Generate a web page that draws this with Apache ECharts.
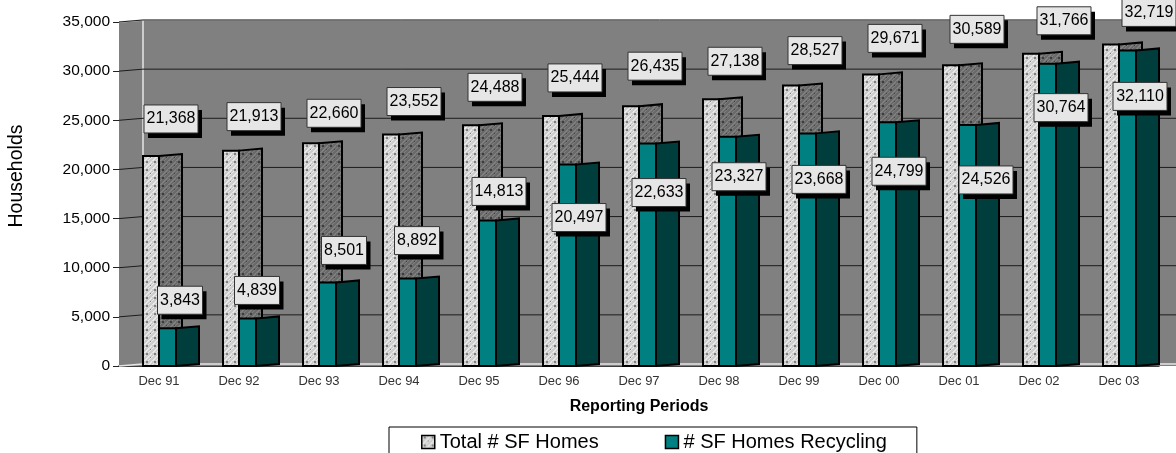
<!DOCTYPE html>
<html>
<head>
<meta charset="utf-8">
<style>html,body{margin:0;background:#fff}#chart{width:1176px;height:453px}</style>
<script src="https://cdn.jsdelivr.net/npm/echarts@6/dist/echarts.min.js"></script>
</head>
<body>
<div id="chart"></div>
<script>
const categories = ["Dec 91","Dec 92","Dec 93","Dec 94","Dec 95","Dec 96","Dec 97","Dec 98","Dec 99","Dec 00","Dec 01","Dec 02","Dec 03"];
const totalHomes = [21368,21913,22660,23552,24488,25444,26435,27138,28527,29671,30589,31766,32719];
const recyclingHomes = [3843,4839,8501,8892,14813,20497,22633,23327,23668,24799,24526,30764,32110];
const yTicks = [5000,10000,15000,20000,25000,30000,35000];

//hand placed label nudges in px, measured from the center of the category and the top of the bar
const totalLabelDx = [12,15,15,15,16,16,16,16,16,16,18,25,30];
const totalLabelDy = [-37,-34,-30,-33,-38,-38,-40,-38,-35,-36,-36,-33,-32];
const recyclingLabelDx = [21,18,25,18,20,20,20,20,20,20,27,22,21];
const recyclingLabelDy = [-28,-28,-32,-38,-29,53,49,40,46,49,55,44,46];

const DEPTH_X = 24;
const DEPTH_Y = 2;
const FONT = '"Liberation Sans", Arial, sans-serif';

//tile used for the hatched bars
function hatch(base, light, dark) {
    const c = document.createElement("canvas");
    c.width = c.height = 8;
    const g = c.getContext("2d");
    g.fillStyle = base;
    g.fillRect(0, 0, 8, 8);
    g.fillStyle = light;
    for (let i = 0; i < 8; i++) {
        g.fillRect(i, (8 - i) % 8, 2, 1);
        g.fillRect(i, (12 - i) % 8, 1, 1);
    }
    g.fillStyle = dark;
    g.fillRect(2, 1, 2, 2);
    g.fillRect(6, 5, 1, 1);
    return { image: c, repeat: "repeat" };
}

const totalFront = hatch("#cdcdcd", "#e9e9e9", "#808080");
const totalSide = hatch("#696969", "#808080", "#3c3c3c");

//one bar with its front and side faces, offset is px from the category center
function barItem(params, api, offset, frontWidth, frontFill, sideFill) {
    const top = api.coord([api.value(0), api.value(1)]);
    const base = api.coord([api.value(0), 0]);
    const x0 = top[0] + offset;
    const x1 = x0 + frontWidth;
    const x2 = x1 + DEPTH_X - 1;
    const line = { stroke: "#000", lineWidth: 2, lineJoin: "miter" };
    return {
        type: "group",
        children: [
            { type: "polygon", shape: { points: [[x1, top[1]], [x2, top[1] - DEPTH_Y], [x2, base[1] - DEPTH_Y], [x1, base[1]]] }, style: { fill: sideFill, ...line } },
            { type: "rect", shape: { x: x0, y: top[1], width: frontWidth, height: base[1] - top[1] }, style: { fill: frontFill, ...line } }
        ]
    };
}

function labelItem(api, text, dx, dy) {
    const top = api.coord([api.value(0), api.value(1)]);
    const cx = top[0] + dx;
    const cy = top[1] + dy;
    const w = text.length > 5 ? 54 : 45;
    const h = 28;
    return {
        type: "group",
        children: [
            { type: "rect", shape: { x: cx - w / 2 + 4, y: cy - h / 2 + 5, width: w, height: h }, style: { fill: "#000" } },
            { type: "rect", shape: { x: cx - w / 2, y: cy - h / 2, width: w, height: h }, style: { fill: "#e6e6e6", stroke: "#333", lineWidth: 1 } },
            { type: "text", style: { x: cx, y: cy, text: text, align: "center", verticalAlign: "middle", fill: "#000", font: "16px " + FONT } }
        ]
    };
}

const toPairs = (values) => values.map((v, i) => [i, v]);
const fmt = (v) => v.toLocaleString("en-US");

const chart = echarts.init(document.getElementById("chart"), null, { renderer: "canvas" });

chart.setOption({
    animation: false,
    backgroundColor: "#fff",
    grid: { left: 119, right: 17, top: 22, bottom: 87 },
    xAxis: {
        type: "category",
        data: categories,
        name: "Reporting Periods",
        nameLocation: "middle",
        nameGap: 33,
        nameTextStyle: { color: "#000", fontFamily: FONT, fontSize: 16, fontWeight: "bold" },
        axisLine: { lineStyle: { color: "#000", width: 1.5 } },
        axisTick: { length: 6, lineStyle: { color: "#333" } },
        axisLabel: { color: "#333", fontFamily: FONT, fontSize: 13, margin: 9, interval: 0 },
        splitLine: { show: false }
    },
    yAxis: {
        type: "value",
        min: 0,
        max: 35000,
        interval: 5000,
        axisLine: { show: true, lineStyle: { color: "#222" } },
        axisTick: { show: true, length: 6, lineStyle: { color: "#222" } },
        axisLabel: { color: "#000", fontFamily: FONT, fontSize: 15.5, margin: 9, formatter: (v) => fmt(v) },
        splitLine: { show: false }
    },
    legend: {
        left: 389,
        top: 427,
        padding: [5, 30, 30, 32],
        itemGap: 66,
        itemWidth: 13,
        itemHeight: 13,
        itemStyle: { borderColor: "#000", borderWidth: 1.5 },
        borderColor: "#000",
        borderWidth: 1,
        backgroundColor: "#fff",
        selectedMode: false,
        icon: "rect",
        textStyle: { color: "#000", fontFamily: FONT, fontSize: 20 },
        data: [
            { name: "Total # SF Homes", itemStyle: { color: totalFront } },
            { name: "# SF Homes Recycling", itemStyle: { color: "#008080" } }
        ]
    },
    graphic: [{
        type: "text",
        x: 17,
        y: 176,
        rotation: Math.PI / 2,
        style: { text: "Households", font: "19.5px " + FONT, fill: "#000", align: "center", verticalAlign: "middle" }
    }],
    series: [
        {
            //back wall and floor edge
            type: "custom",
            z: 1,
            silent: true,
            encode: { x: 0, y: 1 },
            data: [[0, 35000]],
            renderItem: (params, api) => {
                const cs = params.coordSys;
                const right = api.getWidth();
                const yTop = cs.y;
                const yBase = cs.y + cs.height;
                const wallX = cs.x + DEPTH_X;
                return {
                    type: "group",
                    children: [
                        { type: "polygon", shape: { points: [[cs.x, yTop], [wallX, yTop - DEPTH_Y], [right, yTop - DEPTH_Y], [right, yBase], [cs.x, yBase]] }, style: { fill: "#808080" } },
                        { type: "polyline", shape: { points: [[cs.x, yTop], [wallX, yTop - DEPTH_Y], [right, yTop - DEPTH_Y]] }, style: { fill: null, stroke: "#d8d8d8", lineWidth: 1.5 } },
                        { type: "line", shape: { x1: wallX, y1: yTop - DEPTH_Y, x2: wallX, y2: yBase - DEPTH_Y }, style: { stroke: "#e6e6e6", lineWidth: 1.5 } },
                        { type: "polyline", shape: { points: [[cs.x, yBase], [wallX, yBase - DEPTH_Y], [right, yBase - DEPTH_Y]] }, style: { fill: null, stroke: "#e6e6e6", lineWidth: 1.5 } }
                    ]
                };
            }
        },
        {
            //gridlines bend from the tick back to the wall
            type: "custom",
            z: 2,
            silent: true,
            encode: { x: 0, y: 1 },
            data: yTicks.map((v) => [0, v]),
            renderItem: (params, api) => {
                const cs = params.coordSys;
                const y = api.coord([0, api.value(1)])[1];
                return {
                    type: "polyline",
                    shape: { points: [[cs.x, y], [cs.x + DEPTH_X, y - DEPTH_Y], [api.getWidth(), y - DEPTH_Y]] },
                    style: { fill: null, stroke: "#1c1c1c", lineWidth: 1 }
                };
            }
        },
        {
            name: "Total # SF Homes",
            type: "custom",
            z: 3,
            encode: { x: 0, y: 1 },
            itemStyle: { color: totalFront },
            data: toPairs(totalHomes),
            renderItem: (params, api) => barItem(params, api, -16, 16, totalFront, totalSide)
        },
        {
            name: "# SF Homes Recycling",
            type: "custom",
            z: 4,
            encode: { x: 0, y: 1 },
            itemStyle: { color: "#008080" },
            data: toPairs(recyclingHomes),
            renderItem: (params, api) => barItem(params, api, 0, 17, "#008080", "#003d3d")
        },
        {
            type: "custom",
            z: 5,
            silent: true,
            encode: { x: 0, y: 1 },
            data: toPairs(totalHomes),
            renderItem: (params, api) => labelItem(api, fmt(api.value(1)), totalLabelDx[params.dataIndex], totalLabelDy[params.dataIndex])
        },
        {
            type: "custom",
            z: 6,
            silent: true,
            encode: { x: 0, y: 1 },
            data: toPairs(recyclingHomes),
            renderItem: (params, api) => labelItem(api, fmt(api.value(1)), recyclingLabelDx[params.dataIndex], recyclingLabelDy[params.dataIndex])
        }
    ]
});
</script>
</body>
</html>
